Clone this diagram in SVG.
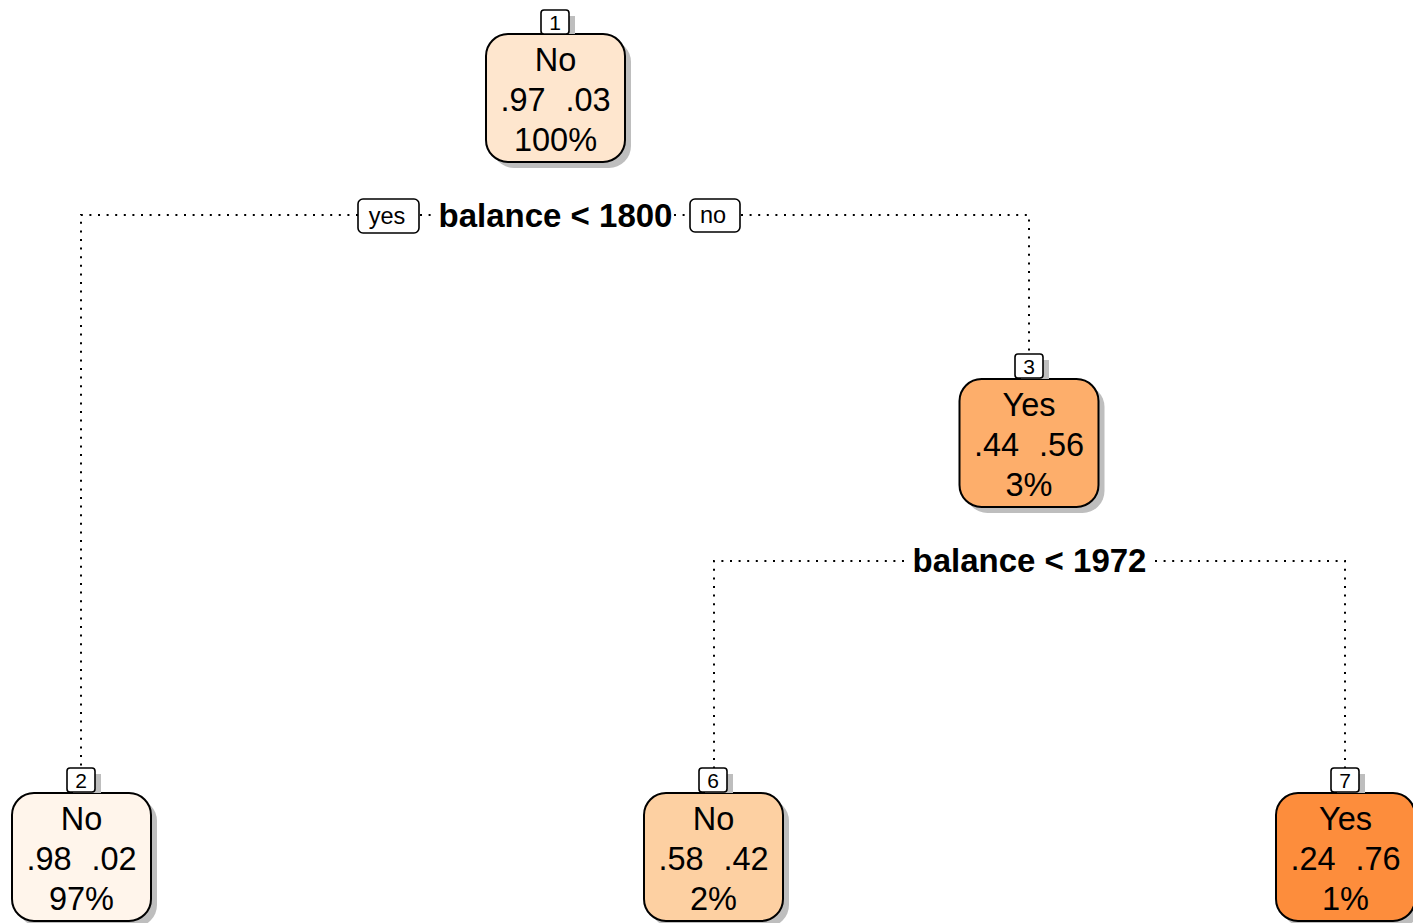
<svg xmlns="http://www.w3.org/2000/svg" width="1413" height="923" viewBox="0 0 1413 923">
  <style>
    .box { stroke: #000; stroke-width: 2; }
    .shadow { fill: #BEBEBE; }
    .num { fill: #fff; stroke: #000; stroke-width: 1.6; }
    .numtxt { font-family: "Liberation Sans", Arial, sans-serif; font-size: 21px; text-anchor: middle; fill: #000; }
    .txt { font-family: "Liberation Sans", Arial, sans-serif; font-size: 32.5px; text-anchor: middle; fill: #000; }
    .split { font-family: "Liberation Sans", Arial, sans-serif; font-size: 33px; font-weight: bold; text-anchor: middle; fill: #000; }
    .yn { font-family: "Liberation Sans", Arial, sans-serif; font-size: 23.5px; text-anchor: middle; fill: #000; }
    .tag { fill: #fff; stroke: #000; stroke-width: 1.6; }
    .dot { fill: none; stroke: #000; stroke-width: 2; stroke-dasharray: 2 6.6; }
  </style>

  <rect width="1413" height="923" fill="#fff"/>

  <!-- connectors: dotted branch lines -->
  <g id="edges">
    <path class="dot" d="M358 215 H81 V768"/>
    <path class="dot" d="M420 215 H437"/>
    <path class="dot" d="M674 215 H690"/>
    <path class="dot" d="M741 215 H1029 V354"/>
    <path class="dot" d="M904 561 H714 V768"/>
    <path class="dot" d="M1155 561 H1345 V768"/>
  </g>

  <!-- split labels -->
  <g id="split1">
    <rect class="tag" x="358" y="199" width="61" height="34" rx="5"/>
    <text class="yn" x="387" y="224">yes</text>
    <text class="split" x="555.5" y="227">balance &lt; 1800</text>
    <rect class="tag" x="690" y="199" width="50" height="33" rx="5"/>
    <text class="yn" x="713" y="223">no</text>
  </g>
  <g id="split3">
    <text class="split" x="1029.5" y="572">balance &lt; 1972</text>
  </g>

  <!-- node 1 -->
  <g id="node1">
    <rect class="shadow" x="492" y="40" width="139" height="128" rx="22"/>
    <rect class="box" x="486" y="34" width="139" height="128" rx="22" fill="#FEE6CE"/>
    <rect class="shadow" x="547" y="16" width="28" height="18"/>
    <rect class="num" x="541" y="10" width="28" height="24" rx="3"/>
    <text class="numtxt" x="555" y="30">1</text>
    <text class="txt" x="555.5" y="71">No</text>
    <text class="txt" x="523" y="111">.97</text>
    <text class="txt" x="588" y="111">.03</text>
    <text class="txt" x="555.5" y="151">100%</text>
  </g>

  <!-- node 3 -->
  <g id="node3">
    <rect class="shadow" x="965.5" y="385" width="139" height="128" rx="22"/>
    <rect class="box" x="959.5" y="379" width="139" height="128" rx="22" fill="#FDAE6B"/>
    <rect class="shadow" x="1021" y="360" width="28" height="19"/>
    <rect class="num" x="1015" y="354" width="28" height="24" rx="3"/>
    <text class="numtxt" x="1029" y="374">3</text>
    <text class="txt" x="1029" y="416">Yes</text>
    <text class="txt" x="996.5" y="456">.44</text>
    <text class="txt" x="1061.5" y="456">.56</text>
    <text class="txt" x="1029" y="496">3%</text>
  </g>

  <!-- node 2 -->
  <g id="node2">
    <rect class="shadow" x="18" y="799" width="139" height="128" rx="22"/>
    <rect class="box" x="12" y="793" width="139" height="128" rx="22" fill="#FFF5EB"/>
    <rect class="shadow" x="73" y="774" width="28" height="19"/>
    <rect class="num" x="67" y="768" width="28" height="24" rx="3"/>
    <text class="numtxt" x="81" y="788">2</text>
    <text class="txt" x="81.5" y="830">No</text>
    <text class="txt" x="49" y="870">.98</text>
    <text class="txt" x="114" y="870">.02</text>
    <text class="txt" x="81.5" y="910">97%</text>
  </g>

  <!-- node 6 -->
  <g id="node6">
    <rect class="shadow" x="650" y="799" width="139" height="128" rx="22"/>
    <rect class="box" x="644" y="793" width="139" height="128" rx="22" fill="#FDD0A2"/>
    <rect class="shadow" x="705" y="774" width="28" height="19"/>
    <rect class="num" x="699" y="768" width="28" height="24" rx="3"/>
    <text class="numtxt" x="713" y="788">6</text>
    <text class="txt" x="713.5" y="830">No</text>
    <text class="txt" x="681" y="870">.58</text>
    <text class="txt" x="746" y="870">.42</text>
    <text class="txt" x="713.5" y="910">2%</text>
  </g>

  <!-- node 7 -->
  <g id="node7">
    <rect class="shadow" x="1282" y="799" width="139" height="128" rx="22"/>
    <rect class="box" x="1276" y="793" width="139" height="128" rx="22" fill="#FD8D3C"/>
    <rect class="shadow" x="1337" y="774" width="28" height="19"/>
    <rect class="num" x="1331" y="768" width="28" height="24" rx="3"/>
    <text class="numtxt" x="1345" y="788">7</text>
    <text class="txt" x="1345.5" y="830">Yes</text>
    <text class="txt" x="1313" y="870">.24</text>
    <text class="txt" x="1378" y="870">.76</text>
    <text class="txt" x="1345.5" y="910">1%</text>
  </g>
</svg>
